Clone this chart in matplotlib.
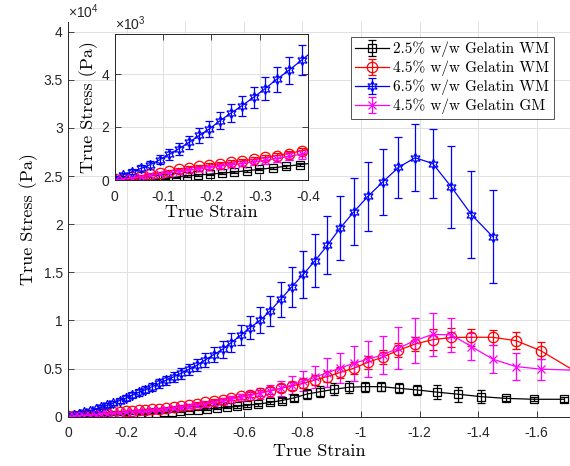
"""True stress vs true strain for gelatin phantoms, with a zoomed inset of the low-strain region."""
import numpy as np
import matplotlib
matplotlib.use("Agg")
import matplotlib.pyplot as plt
from matplotlib.ticker import ScalarFormatter

# ---- data (strain is negative = compression, stress in Pa) ----
strain_a = [0, -0.018, -0.036, -0.055, -0.074, -0.093, -0.113, -0.133, -0.154, -0.175,
            -0.196, -0.218, -0.240, -0.263, -0.287, -0.311, -0.335, -0.360, -0.386, -0.413,
            -0.440, -0.468, -0.497, -0.527, -0.557, -0.589, -0.621, -0.655, -0.690, -0.726,
            -0.764, -0.803, -0.843, -0.885, -0.929, -0.976, -1.024, -1.075, -1.128, -1.185,
            -1.245, -1.309, -1.377, -1.450, -1.529, -1.614, -1.760]
strain_b = [0, -0.020, -0.041, -0.062, -0.083, -0.105, -0.127, -0.150, -0.173, -0.197,
            -0.222, -0.247, -0.273, -0.299, -0.327, -0.355, -0.383, -0.413, -0.443, -0.475,
            -0.508, -0.541, -0.576, -0.612, -0.649, -0.688, -0.729, -0.771, -0.815, -0.861,
            -0.909, -0.959, -1.013, -1.069, -1.129, -1.192, -1.260, -1.333, -1.411, -1.497,
            -1.590, -1.692]

wm25 = [0, 0, 0, 0, 30, 70, 110, 150, 190, 220, 260, 300, 350, 400, 460, 520, 580, 650, 720, 800,
        880, 970, 1070, 1180, 1310, 1480, 1680, 1950, 2350, 2600, 2850, 3060, 3120, 3120, 2950,
        2780, 2550, 2330, 2080, 1900, 1810, 1810]
wm25_err = [10, 10, 10, 10, 15, 15, 20, 20, 25, 25, 30, 30, 35, 40, 45, 50, 55, 60, 70, 80,
            90, 100, 120, 140, 160, 200, 250, 320, 500, 570, 600, 600, 520, 500, 500,
            500, 750, 800, 700, 300, 220, 270]

wm45 = [50, 50, 100, 160, 220, 280, 340, 400, 460, 510, 570, 620, 670, 720, 780, 850, 920, 1000,
        1100, 1220, 1350, 1480, 1620, 1780, 1950, 2120, 2300, 2500, 2720, 2950, 3180, 3480, 3820,
        4170, 4600, 5040, 5650, 6200, 6900, 7550, 8000, 8230, 8250, 8250, 7900, 6860, 4200]
wm45_err = [20, 20, 25, 30, 30, 35, 40, 45, 50, 55, 60, 65, 70, 75, 80, 90, 100, 110, 120, 140,
            150, 170, 190, 210, 230, 260, 290, 320, 360, 400, 440, 480, 520, 560, 600, 640, 680,
            700, 720, 740, 1100, 950, 900, 780, 900, 870, 800]

wm65 = [50, 200, 310, 440, 580, 760, 970, 1180, 1420, 1680, 1930, 2240, 2520, 2800, 3120, 3450,
        3800, 4140, 4520, 4920, 5350, 5900, 6450, 7000, 7700, 8450, 9250, 10000, 11000, 12200,
        13500, 14800, 16200, 17800, 19600, 21300, 22900, 24400, 25900, 26900, 26300, 23850,
        21000, 18700]
wm65_err = [50, 80, 100, 120, 150, 170, 200, 220, 250, 270, 300, 320, 350, 380, 400, 430, 470,
            510, 560, 600, 650, 700, 780, 860, 950, 1050, 1200, 1350, 1550, 1800, 2100, 2450,
            2750, 3000, 3300, 3500, 3600, 3450, 3200, 3500, 3550, 4250, 4550, 4800]

gm45 = [0, 30, 70, 120, 170, 220, 270, 320, 370, 420, 470, 520, 570, 620, 680, 740, 810, 890,
        980, 1080, 1200, 1330, 1470, 1620, 1800, 2000, 2200, 2420, 2660, 2950, 3300, 3700, 4100,
        4580, 5040, 5560, 5980, 6430, 7120, 7920, 8550, 8500, 7290, 5980, 5210, 4940, 4800]
gm45_err = [20, 25, 30, 35, 40, 45, 50, 55, 60, 65, 70, 80, 90, 100, 110, 120, 130, 150, 170,
            190, 210, 240, 270, 310, 350, 400, 460, 540, 640, 760, 900, 1050, 1170, 1470, 1560,
            1800, 1900, 2000, 2200, 2300, 2260, 1800, 1400, 1460, 1400, 1100, 1000]

series = [
    ("2.5% w/w Gelatin WM", strain_b, wm25, wm25_err, "k", "s", 6),
    ("4.5% w/w Gelatin WM", strain_a, wm45, wm45_err, "#ff0000", "o", 7.5),
    ("6.5% w/w Gelatin WM", strain_a[:len(wm65)], wm65, wm65_err, "#0000ff", (6, 1, 0), 7.5),
    ("4.5% w/w Gelatin GM", strain_a, gm45, gm45_err, "#ff00ff", "x", 6),
]

main_xticks = [0, -0.2, -0.4, -0.6, -0.8, -1.0, -1.2, -1.4, -1.6]
main_xlabels = ["0", "-0.2", "-0.4", "-0.6", "-0.8", "-1", "-1.2", "-1.4", "-1.6"]
main_yticks = [0, 5000, 10000, 15000, 20000, 25000, 30000, 35000, 40000]
inset_xticks = [0, -0.1, -0.2, -0.3, -0.4]
inset_xlabels = ["0", "-0.1", "-0.2", "-0.3", "-0.4"]
inset_yticks = [0, 2000, 4000]

SERIF = ["cmr10", "DejaVu Serif"]
GRID = "#e1e1e1"
AX = "#262626"

plt.rcParams.update({
    "font.family": ["Liberation Sans", "DejaVu Sans"],
    "font.size": 10,
    "axes.unicode_minus": False,
    "mathtext.fontset": "custom",
    "mathtext.rm": "Liberation Sans",
    "mathtext.it": "Liberation Sans",
    "axes.edgecolor": AX,
    "axes.linewidth": 0.7,
    "xtick.color": AX, "ytick.color": AX,
})


class TrimFormatter(ScalarFormatter):
    """Scientific offset like MATLAB, but tick labels without trailing zeros (0, 0.5, 1 ...)."""
    def _set_format(self):
        self.format = "%g"


fig = plt.figure(figsize=(5.7, 4.66), dpi=100)
ax = fig.add_axes([68.3 / 570, 1 - 416.7 / 466, (570 - 68.3) / 570, (416.7 - 22) / 466])
axi = fig.add_axes([114.5 / 570, 1 - 180 / 466, 193.8 / 570, 145.75 / 466])


def draw(a):
    handles = []
    for lab, x, y, e, c, m, ms in series:
        h = a.errorbar(x, y, yerr=e, color=c, marker=m, ms=ms, mfc="none", mec=c, mew=0.9,
                       lw=0.9, elinewidth=0.9, capsize=3, capthick=0.9, label=lab)
        handles.append(h)
    a.grid(True, color=GRID, lw=0.7)
    a.set_axisbelow(True)
    a.tick_params(direction="in", length=4, width=0.6, labelsize=10, pad=7)
    return handles


def sci_axis(a, power):
    fmt = TrimFormatter(useMathText=True)
    fmt.set_powerlimits((power, power))
    a.yaxis.set_major_formatter(fmt)
    a.yaxis.get_offset_text().set_fontsize(10)


handles = draw(ax)
ax.set_xlim(0, -(570 - 68.3) / 292.7)
ax.set_ylim(0, 41000)
ax.set_xticks(main_xticks, main_xlabels)
ax.set_yticks(main_yticks)
ax.tick_params(axis="y", pad=4)
sci_axis(ax, 4)
ax.spines["top"].set_visible(False)
ax.spines["right"].set_visible(False)
ax.set_xlabel("True Strain", family=SERIF, fontsize=13, labelpad=2)
ax.set_ylabel("True Stress (Pa)", family=SERIF, fontsize=13, labelpad=4)

leg = ax.legend(handles=handles, loc="upper right", bbox_to_anchor=(554 / 570, 1 - 37 / 466),
                bbox_transform=fig.transFigure, borderaxespad=0, frameon=True, fancybox=False,
                prop={"family": SERIF, "size": 11}, handlelength=2.2, handletextpad=0.3,
                labelspacing=0.22, borderpad=0.3)
leg.get_frame().set_edgecolor(AX)
leg.get_frame().set_linewidth(0.7)

draw(axi)
axi.set_facecolor("white")
axi.set_xlim(0, -0.4)
axi.set_ylim(0, 5500)
axi.set_xticks(inset_xticks, inset_xlabels)
axi.set_yticks(inset_yticks)
axi.tick_params(top=True, right=True)
axi.tick_params(axis="y", pad=4)
sci_axis(axi, 3)
axi.set_xlabel("True Strain", family=SERIF, fontsize=13, labelpad=1)
axi.set_ylabel("True Stress (Pa)", family=SERIF, fontsize=13, labelpad=2)

fig.savefig("out.png", dpi=100)
